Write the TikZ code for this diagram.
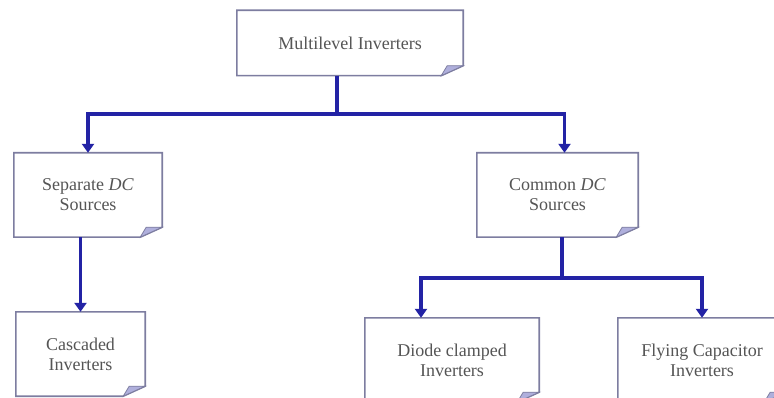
\documentclass[tikz,border=0pt]{standalone}
\usepackage{fontspec}
\setmainfont{Liberation Serif}
\usetikzlibrary{arrows.meta}
\definecolor{linkblue}{RGB}{35,35,165}
\definecolor{boxline}{RGB}{125,125,160}
\definecolor{foldfill}{RGB}{175,175,220}
\definecolor{textgray}{RGB}{85,85,85}

\begin{document}
\begin{tikzpicture}[x=1pt,y=-1pt,>={Triangle[length=9pt,width=12pt]},
      every node/.style={align=center,inner sep=0pt,text=textgray,font=\fontsize{18}{20}\selectfont},
      link/.style={linkblue,line width=3.5pt},
      outline/.style={boxline,line width=1.6pt,line join=miter}]
      \useasboundingbox (0,0) rectangle (774,398);
      \clip (0,0) rectangle (774,398);
      \fill[white] (0,0) rectangle (774,398);
      % boxes
      \node[minimum width=226pt,minimum height=65pt] (mli) at (350,43) {Multilevel Inverters};
      \node[minimum width=148pt,minimum height=84pt] (sep) at (88,195) {Separate \textit{DC}\\Sources};
      \node[minimum width=161pt,minimum height=84pt] (com) at (557.5,195) {Common \textit{DC}\\Sources};
      \node[minimum width=129pt,minimum height=84pt] (cas) at (80.5,354) {Cascaded\\Inverters};
      \node[minimum width=174pt,minimum height=84pt] (dio) at (452,360) {Diode clamped\\Inverters};
      \node[minimum width=168pt,minimum height=84pt] (fly) at (702,360) {Flying Capacitor\\Inverters};
      \foreach \n in {mli,sep,com,cas,dio,fly}{
        \draw[outline] (\n.north west) -- (\n.north east) -- ([yshift=10pt]\n.south east)
          -- ([xshift=-22pt]\n.south east) -- (\n.south west) -- cycle;
        \filldraw[boxline,fill=foldfill,line width=0.8pt] ([xshift=-22pt]\n.south east)
          -- ([xshift=-16pt,yshift=10pt]\n.south east) -- ([yshift=10pt]\n.south east) -- cycle;
      }
      % connectors
      \coordinate (j1) at (337,114);
      \coordinate (j2) at (562,278);
      \draw[link] (mli.south -| j1) -- (j1);
      \draw[link,->] (j1) -| (sep.north);
      \draw[link,->] (j1) -| ([xshift=7pt]com.north);
      \draw[link,->] (sep.south -| cas.north) -- (cas.north);
      \draw[link] (com.south -| j2) -- (j2);
      \draw[link,->] (j2) -| ([xshift=-31pt]dio.north);
      \draw[link,->] (j2) -| (fly.north);
    \end{tikzpicture}
\end{document}
